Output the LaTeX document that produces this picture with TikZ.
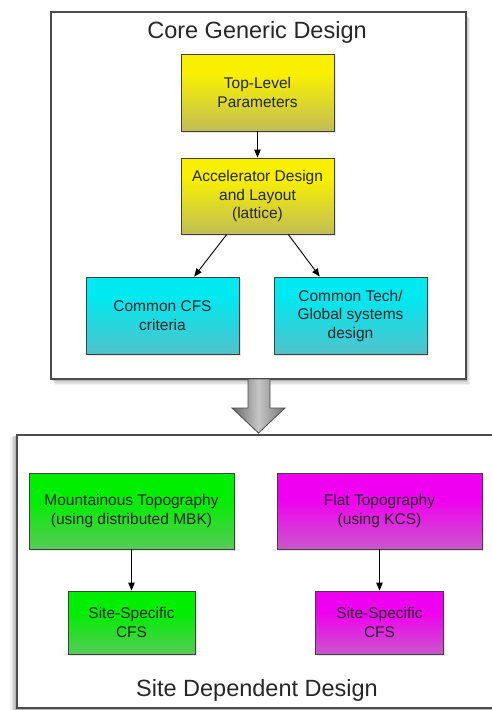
\documentclass[tikz,border=0pt]{standalone}
\usepackage{fontspec}
\setmainfont{Liberation Sans}
\usetikzlibrary{calc,shadows,arrows.meta}
\definecolor{txt}{HTML}{262626}
\definecolor{ytop}{HTML}{F4F4A8}\definecolor{ymid}{HTML}{F8F000}\definecolor{ybot}{HTML}{9C9C90}
\definecolor{ctop}{HTML}{B8F4F4}\definecolor{cmid}{HTML}{00E8F0}\definecolor{cbot}{HTML}{88A8B0}
\definecolor{gtop}{HTML}{B0F4B0}\definecolor{gmid}{HTML}{00EE00}\definecolor{gbot}{HTML}{98B098}
\definecolor{mtop}{HTML}{F4B0F4}\definecolor{mmid}{HTML}{F000F0}\definecolor{mbot}{HTML}{B098B0}
\pgfdeclareverticalshading{yelshade}{100bp}{color(0bp)=(ybot); color(62bp)=(ymid); color(84bp)=(ymid); color(100bp)=(ytop)}
\pgfdeclareverticalshading{cyanshade}{100bp}{color(0bp)=(cbot); color(62bp)=(cmid); color(84bp)=(cmid); color(100bp)=(ctop)}
\pgfdeclareverticalshading{greenshade}{100bp}{color(0bp)=(gbot); color(58bp)=(gmid); color(80bp)=(gmid); color(100bp)=(gtop)}
\pgfdeclareverticalshading{magshade}{100bp}{color(0bp)=(mbot); color(58bp)=(mmid); color(80bp)=(mmid); color(100bp)=(mtop)}
\tikzset{
  stepbox/.style={draw=black!75, line width=0.9pt, align=center, text=txt,
    font=\fontsize{15.5}{18.5}\selectfont, inner sep=0pt,
    drop shadow={shadow xshift=1.5pt, shadow yshift=-1.5pt, opacity=0.2}},
  yelbox/.style={stepbox, shading=yelshade},
  cyanbox/.style={stepbox, shading=cyanshade},
  greenbox/.style={stepbox, shading=greenshade},
  magbox/.style={stepbox, shading=magshade},
  frame/.style={draw=black!70, line width=1.2pt, fill=white},
  title/.style={text=txt, font=\fontsize{23.5}{28}\selectfont, inner sep=0pt},
  conn/.style={draw=black, line width=0.9pt, -{Triangle[length=8pt,width=6.5pt]}},
}
\begin{document}
\begin{tikzpicture}[x=1pt,y=-1pt]
\useasboundingbox (0,0) rectangle (491,710);
\fill[white] (0,0) rectangle (491,710);
% shadows of the frames
\foreach \o/\a in {6/0.05,4.5/0.07,3/0.09,1.5/0.1}{
  \fill[black,opacity=\a] (51+\o*0.6,12+\o) rectangle (466+\o*0.6,379+\o);
  \fill[black,opacity=\a] (17-\o*1.2,435+\o*0.3) rectangle (500,712);
}
% frames
\draw[frame] (51,12) rectangle (466,379);
\draw[frame] (17,435) rectangle (500,708);
% big arrow
\coordinate (ba1) at (248,379);
\shade[left color=black!60, right color=black!55, middle color=black!22, draw=black!70, line width=0.8pt]
  (248,379) -- (248,408) -- (232,408) -- (258.5,433) -- (285,408) -- (270,408) -- (270,379) -- cycle;
% titles
\node[title] (t1) at (257,32) {Core Generic Design};
\node[title] (t2) at (257,690) {Site Dependent Design};
% boxes
\node[yelbox, minimum width=153pt, minimum height=77pt] (top) at (257.5,92.5) {Top-Level\\Parameters};
\node[yelbox, minimum width=153pt, minimum height=76pt] (acc) at (257.5,196) {Accelerator Design\\and Layout\\(lattice)};
\node[cyanbox, minimum width=153pt, minimum height=77pt] (cfs) at (162.5,315.5) {Common CFS\\criteria};
\node[cyanbox, minimum width=153pt, minimum height=77pt] (tech) at (350.5,315.5) {Common Tech/\\Global systems\\design};
\node[greenbox, minimum width=205pt, minimum height=76pt] (mount) at (131.5,511) {Mountainous Topography\\(using distributed MBK)};
\node[magbox, minimum width=205pt, minimum height=76pt] (flat) at (379.5,511) {Flat Topography\\(using KCS)};
\node[greenbox, minimum width=127pt, minimum height=63pt] (ssl) at (131.5,622.5) {Site-Specific\\CFS};
\node[magbox, minimum width=128pt, minimum height=63pt] (ssr) at (379.5,622.5) {Site-Specific\\CFS};
% connectors
\draw[conn] (top.south) -- (acc.north);
\draw[conn] ($(acc.south west)!0.3!(acc.south east)$) -- ($(cfs.north west)!0.706!(cfs.north east)$);
\draw[conn] ($(acc.south west)!0.7!(acc.south east)$) -- ($(tech.north west)!0.3!(tech.north east)$);
\draw[conn] (mount.south) -- (ssl.north);
\draw[conn] (flat.south) -- (ssr.north);
\end{tikzpicture}
\end{document}
